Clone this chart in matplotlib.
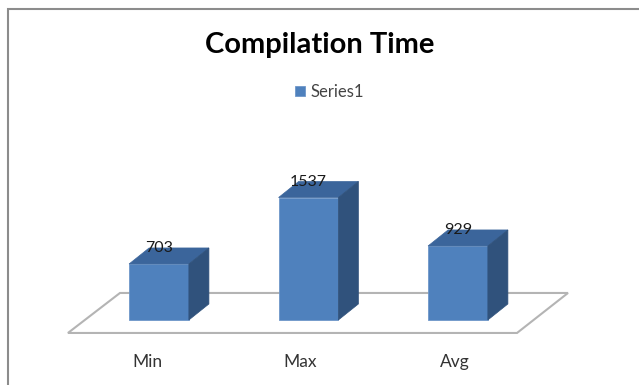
import matplotlib.pyplot as plt
from matplotlib.patches import Polygon, Rectangle

plt.rcParams['font.family'] = ['Lato', 'DejaVu Sans']

# data
categories = ['Min', 'Max', 'Avg']
values = [703, 1537, 929]
series_name = 'Series1'

front_col = '#4f81bd'
top_col = '#3b659b'
side_col = '#30527c'

fig = plt.figure(figsize=(6.39, 3.85), dpi=100)
ax = fig.add_axes([0, 0, 1, 1])
ax.set_xlim(-1.0635, 3.211)
ax.set_ylim(-816, 4016)
ax.axis('off')

# outer frame
fig.patches.append(Rectangle((8 / 639, -0.1), 1.2, 1 - 9 / 385 + 0.1, transform=fig.transFigure,
                             fill=False, edgecolor='#8c8c8c', linewidth=1.5))

# floor
floor = Polygon([(-0.609, -163), (2.395, -163), (2.736, 339), (-0.261, 339)],
                closed=True, facecolor='white', edgecolor='#b4b4b4', linewidth=1.5, zorder=1)
ax.add_patch(floor)

w = 0.40
dx, dy = 0.134, 201
x = range(len(values))
bars = ax.bar(x, values, width=w, color=front_col, zorder=3, label=series_name,
              edgecolor='#6f97c9', linewidth=0.6)
for xi, v in zip(x, values):
    l, r = xi - w / 2, xi + w / 2
    ax.add_patch(Polygon([(l, v), (r, v), (r + dx, v + dy), (l + dx, v + dy)],
                         closed=True, facecolor=top_col, edgecolor=top_col, lw=0.5, zorder=3))
    ax.add_patch(Polygon([(r, 0), (r + dx, dy), (r + dx, v + dy), (r, v)],
                         closed=True, facecolor=side_col, edgecolor=side_col, lw=0.5, zorder=3))
    ax.text(xi, v + dy, str(v), ha='center', va='center', fontsize=11.5, color='#1a1a1a', zorder=4)

label_shift = [-0.08, -0.055, -0.02]
for xi, c, s in zip(x, categories, label_shift):
    ax.text(xi + s, -530, c, ha='center', va='center', fontsize=12.5, color='#333333')

fig.text(0.5, 1 - 45 / 385, 'Compilation Time', ha='center', va='center',
         fontsize=21, fontweight='bold', color='black')

fig.legend(handles=[bars], labels=[series_name], loc='center', bbox_to_anchor=(0.516, 1 - 92 / 385),
           frameon=False, fontsize=12, handlelength=0.6, handleheight=0.6, handletextpad=0.3,
           labelcolor='#444444')

fig.savefig('out.png', dpi=100)
